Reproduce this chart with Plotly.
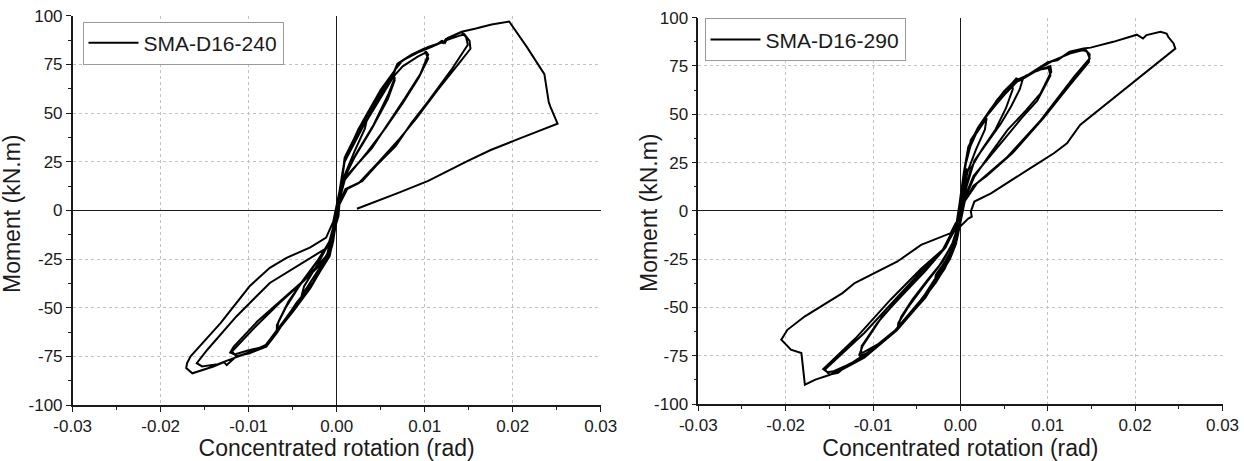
import plotly.graph_objects as go

# Tick positions and labels shared by both panels
x_tickvals = [-0.03, -0.02, -0.01, 0.0, 0.01, 0.02, 0.03]
x_ticktext = ["-0.03", "-0.02", "-0.01", "0.00", "0.01", "0.02", "0.03"]
y_tickvals = [-100, -75, -50, -25, 0, 25, 50, 75, 100]
y_ticktext = ["-100", "-75", "-50", "-25", "0", "25", "50", "75", "100"]

x_title = "Concentrated rotation (rad)"
y_title = "Moment (kN.m)"

specimen_a = "SMA-D16-240"
specimen_b = "SMA-D16-290"

# Moment-rotation history, SMA-D16-240: (rotation [rad], moment [kN.m])
path_240 = [
    (0.0, 0.0), (0.0003, 8), (0.0006, 16), (0.0004, 10), (0.0, 1),
    (-0.0003, -8), (-0.0006, -16), (-0.0004, -10), (0.0, 0),
    (0.0006, 18), (0.0009, 26), (0.002, 36), (0.0035, 48), (0.0032, 42), (0.002, 30), (0.0008, 17), (0.0002, 4),
    (-0.0004, -14), (-0.0008, -20), (-0.002, -30), (-0.004, -44), (-0.0037, -39), (-0.0022, -28), (-0.0009, -17), (0.0, -2),
    (0.0005, 14), (0.0009, 26), (0.0025, 42), (0.0045, 58), (0.0058, 66), (0.0064, 69), (0.0066, 67), (0.0058, 57),
    (0.004, 42), (0.002, 27), (0.0008, 16), (0.0002, 3),
    (-0.0004, -16), (-0.001, -24), (-0.0027, -37), (-0.0046, -48), (-0.0062, -58), (-0.0068, -62), (-0.0068, -59),
    (-0.0058, -50), (-0.004, -37), (-0.0022, -26), (-0.0008, -16), (0.0, -2),
    (0.0006, 16), (0.001, 28), (0.003, 46), (0.005, 62), (0.0063, 70), (0.0066, 68), (0.0059, 60), (0.0042, 44),
    (0.0022, 29), (0.0008, 17), (0.0002, 3),
    (-0.0005, -18), (-0.0012, -26), (-0.003, -40), (-0.0048, -51), (-0.0065, -61), (-0.0069, -63), (-0.0066, -57),
    (-0.0055, -47), (-0.0038, -36), (-0.002, -25), (-0.0007, -15), (0.0, -2),
    (0.0005, 14), (0.0009, 26), (0.0025, 40), (0.0045, 55), (0.0062, 67), (0.0069, 75), (0.0085, 80), (0.0099, 83),
    (0.0104, 80), (0.0095, 70), (0.0078, 58), (0.006, 46), (0.004, 32), (0.002, 22), (0.001, 17), (0.0003, 5),
    (-0.0004, -14), (-0.0008, -23), (-0.0027, -37), (-0.0046, -48), (-0.0068, -62), (-0.008, -69), (-0.0099, -73),
    (-0.0114, -75), (-0.0119, -72.5), (-0.0095, -61), (-0.0065, -47.6), (-0.0039, -37), (-0.0012, -25), (-0.0003, -8),
    (0.0006, 16), (0.0009, 25), (0.003, 43), (0.005, 58), (0.0065, 69), (0.0075, 74), (0.0092, 79), (0.0101, 81),
    (0.0104, 78), (0.0093, 68), (0.0075, 55), (0.0055, 42), (0.0035, 30), (0.0015, 19), (0.0008, 15), (0.0002, 4),
    (-0.0005, -17), (-0.001, -24), (-0.0028, -38), (-0.0047, -49), (-0.0067, -61), (-0.0082, -70), (-0.0101, -72),
    (-0.0116, -74), (-0.0121, -73), (-0.0117, -70), (-0.009, -57), (-0.006, -45), (-0.0035, -35), (-0.0011, -23),
    (-0.0002, -5),
    (0.0005, 15), (0.0009, 26), (0.0025, 42), (0.0045, 56), (0.0062, 68), (0.0069, 75), (0.0085, 80), (0.01, 83),
    (0.0115, 85.6), (0.0119, 87), (0.0121, 86), (0.0124, 88), (0.0134, 89.8), (0.0142, 91.6), (0.0147, 89),
    (0.0149, 85), (0.013, 72), (0.0104, 56), (0.0085, 45), (0.0067, 33), (0.0045, 23), (0.0029, 15), (0.001, 11),
    (0.0004, 5),
    (-0.0005, -17), (-0.0008, -23.5), (-0.0027, -37.3), (-0.0046, -47.6), (-0.0068, -63), (-0.008, -70),
    (-0.0099, -73.4), (-0.0114, -75), (-0.0125, -79.5), (-0.0128, -78), (-0.014, -80.2), (-0.0164, -83.7),
    (-0.0171, -81), (-0.017, -78.5), (-0.0166, -75), (-0.0132, -57.9), (-0.0099, -39), (-0.0076, -29.5),
    (-0.0057, -24.4), (-0.003, -19), (-0.0012, -14), (-0.0004, -6),
    (0.0006, 16), (0.0009, 27), (0.0028, 44), (0.005, 60), (0.0066, 72), (0.0075, 77), (0.0092, 81), (0.0108, 84),
    (0.0125, 87.5), (0.0138, 89.5), (0.0145, 90.5), (0.0151, 87), (0.0152, 83), (0.0138, 75), (0.0115, 62),
    (0.009, 47), (0.007, 36), (0.0048, 25), (0.0025, 14), (0.0012, 11), (0.0003, 3),
    (-0.0005, -18), (-0.0009, -24), (-0.0028, -38), (-0.0047, -49), (-0.0068, -62), (-0.0082, -70), (-0.01, -73),
    (-0.0115, -75.5), (-0.0135, -79), (-0.0153, -80.2), (-0.0159, -78.5), (-0.0147, -71.6), (-0.0114, -54.5),
    (-0.0076, -37.3), (-0.0039, -27), (-0.0008, -18.4), (0.0002, -3),
    (0.0005, 14), (0.0009, 26), (0.0025, 42), (0.0045, 57), (0.0063, 69), (0.0069, 75.3), (0.0085, 80),
    (0.0104, 84), (0.0115, 85.6), (0.012, 87), (0.0123, 86), (0.0126, 88.5), (0.0142, 91.8), (0.0157, 93.3),
    (0.0176, 95.5), (0.0196, 97), (0.0216, 84), (0.0236, 70), (0.0241, 55.5), (0.0243, 53), (0.0249, 46),
    (0.0251, 44.5), (0.0206, 36.6), (0.0175, 31), (0.0149, 25.4), (0.0125, 20), (0.0104, 15.1), (0.007, 9),
    (0.0023, 0.8),
]

# Moment-rotation history, SMA-D16-290: (rotation [rad], moment [kN.m])
path_290 = [
    (0.0, 0.0), (0.0003, 10), (0.0007, 22), (0.0004, 12), (0.0, 2),
    (-0.0003, -8), (-0.0006, -16), (-0.0003, -8), (0.0, 0),
    (0.0004, 18), (0.0008, 30), (0.0018, 40), (0.003, 48), (0.0028, 42), (0.0018, 32), (0.0008, 20), (0.0002, 6),
    (-0.0004, -14), (-0.0008, -20), (-0.0018, -30), (-0.003, -38), (-0.0028, -33), (-0.0017, -26), (-0.0008, -18),
    (0.0, -4),
    (0.0004, 20), (0.0009, 33), (0.002, 43), (0.0035, 53), (0.005, 62), (0.0059, 66), (0.006, 63), (0.0052, 53),
    (0.004, 42), (0.0025, 32), (0.0012, 22), (0.0003, 6),
    (-0.0004, -15), (-0.001, -22), (-0.0025, -34), (-0.0045, -46), (-0.0062, -56), (-0.0072, -61.5), (-0.0071, -58),
    (-0.006, -50), (-0.0042, -39), (-0.0025, -29), (-0.001, -18), (0.0, -4),
    (0.0005, 22), (0.0012, 36), (0.0027, 47), (0.0042, 57.4), (0.0059, 66), (0.0064, 68.5), (0.0069, 67.7),
    (0.0072, 69), (0.0068, 63), (0.0058, 54), (0.0046, 45), (0.003, 35), (0.0016, 26), (0.0004, 8),
    (-0.0005, -17), (-0.0012, -25), (-0.0028, -37), (-0.0048, -49), (-0.0065, -58), (-0.0073, -62), (-0.0068, -55),
    (-0.0055, -46), (-0.0038, -36), (-0.002, -26), (-0.0007, -15), (0.0, -4),
    (0.0005, 22), (0.0012, 36.7), (0.0027, 47), (0.0042, 57.4), (0.0059, 66), (0.0069, 67.7), (0.0085, 72),
    (0.0103, 75), (0.0104, 72), (0.0092, 61), (0.0075, 52), (0.0054, 41.9), (0.0035, 30), (0.0016, 17.7),
    (0.0004, 5),
    (-0.0004, -15), (-0.0015, -25.3), (-0.0041, -44.3), (-0.0072, -61.5), (-0.009, -68), (-0.011, -73),
    (-0.0114, -73.6), (-0.0113, -70), (-0.0095, -58), (-0.007, -45), (-0.0045, -33), (-0.0019, -20), (-0.0004, -8),
    (0.0006, 24), (0.0014, 38), (0.003, 49), (0.0048, 59), (0.0065, 67), (0.0075, 70), (0.009, 73), (0.0101, 74),
    (0.0103, 70), (0.0088, 57), (0.007, 48), (0.005, 37), (0.003, 26), (0.0015, 18), (0.0004, 6),
    (-0.0004, -15), (-0.0015, -26), (-0.004, -45), (-0.007, -60), (-0.0092, -69), (-0.0108, -74), (-0.0116, -75),
    (-0.0112, -70), (-0.009, -55), (-0.0065, -43), (-0.004, -31), (-0.0017, -19), (-0.0003, -6),
    (0.0005, 22), (0.0012, 36.7), (0.0027, 47), (0.0042, 57.4), (0.0059, 66), (0.0069, 68), (0.0077, 70),
    (0.009, 74), (0.0103, 77.2), (0.013, 82.3), (0.0141, 83.2), (0.0145, 82.3), (0.0148, 78.9), (0.013, 69.4),
    (0.0092, 47), (0.0054, 28), (0.0019, 14.3), (0.0005, 5),
    (-0.0004, -15), (-0.0015, -25.3), (-0.0041, -44.3), (-0.0072, -61.5), (-0.011, -75.3), (-0.013, -80),
    (-0.014, -83.9), (-0.015, -84.8), (-0.0155, -82.2), (-0.011, -63.2), (-0.0064, -40.8), (-0.003, -24),
    (-0.0019, -20), (-0.0005, -8),
    (0.0006, 24), (0.0014, 38), (0.003, 49), (0.0048, 59), (0.0065, 67), (0.008, 71), (0.0103, 77), (0.0125, 81.5),
    (0.0143, 83.5), (0.0148, 81), (0.0147, 77), (0.0125, 65), (0.0095, 48), (0.006, 30), (0.003, 18),
    (0.0015, 13), (0.0004, 4),
    (-0.0005, -16), (-0.0016, -26), (-0.0043, -45), (-0.0075, -62), (-0.0105, -73), (-0.0125, -79), (-0.0145, -83),
    (-0.0152, -83.5), (-0.0157, -82), (-0.012, -66), (-0.008, -46), (-0.0045, -30), (-0.002, -20), (-0.0004, -6),
    (0.0004, 20), (0.0011, 35), (0.0029, 48.8), (0.0056, 63.4), (0.0065, 67.8), (0.0077, 70.3), (0.01, 77),
    (0.0111, 78), (0.0125, 82.4), (0.0141, 84), (0.0149, 84.5), (0.0175, 87.5), (0.0202, 91.2), (0.0209, 89.2),
    (0.0213, 91), (0.0229, 92.7), (0.0236, 91.8), (0.0238, 90), (0.0244, 86.7), (0.0246, 84), (0.0206, 69.4),
    (0.0168, 55.7), (0.0137, 44.5), (0.0122, 35), (0.0107, 29.8), (0.0077, 21.2), (0.0035, 9.1), (0.0016, 4.8),
    (0.0012, -0.3), (0.0013, -3), (0.0009, -4), (0.0, -8),
    (-0.0005, -12), (-0.0015, -26), (-0.0042, -45), (-0.0073, -62), (-0.011, -76), (-0.0135, -82), (-0.015, -85),
    (-0.0166, -87.4), (-0.0178, -90), (-0.0182, -73.6), (-0.0194, -71.9), (-0.0205, -66.7), (-0.0198, -61.6),
    (-0.0178, -54.6), (-0.0135, -42.6), (-0.0121, -37.4), (-0.0072, -26.2), (-0.0045, -17.6), (-0.0011, -11.5),
    (-0.0005, -6),
]

FONT = "Liberation Sans, Arial, sans-serif"
INK = "#1a1a1a"
W, H = 1244, 461


def unzip(path):
    return [p[0] for p in path], [p[1] for p in path]


rot_240, mom_240 = unzip(path_240)
rot_290, mom_290 = unzip(path_290)

fig = go.Figure()
fig.add_trace(go.Scatter(x=rot_240, y=mom_240, mode="lines", name=specimen_a,
                         line=dict(color="#000000", width=2),
                         xaxis="x", yaxis="y", legend="legend"))
fig.add_trace(go.Scatter(x=rot_290, y=mom_290, mode="lines", name=specimen_b,
                         line=dict(color="#000000", width=2),
                         xaxis="x2", yaxis="y2", legend="legend2"))


def x_axis(domain, anchor):
    return dict(
        domain=domain, anchor=anchor, range=[-0.03, 0.03],
        tickmode="array", tickvals=x_tickvals, ticktext=x_ticktext,
        ticks="outside", ticklen=5, tickwidth=1.3, tickcolor=INK,
        minor=dict(ticks="outside", ticklen=3, tickwidth=1.2, tickcolor=INK,
                   dtick=0.005, tick0=0, showgrid=False),
        showline=True, linecolor=INK, linewidth=1.5,
        showgrid=True, gridcolor="#c2c2c2", gridwidth=1, griddash="dot",
        zeroline=True, zerolinecolor=INK, zerolinewidth=1.3,
        tickfont=dict(family=FONT, size=17, color=INK),
        title=dict(text=x_title, font=dict(family=FONT, size=23, color=INK), standoff=0),
        automargin=False,
    )


def y_axis(domain, anchor):
    return dict(
        domain=domain, anchor=anchor, range=[-100, 100],
        tickmode="array", tickvals=y_tickvals, ticktext=y_ticktext,
        ticks="outside", ticklen=5, tickwidth=1.3, tickcolor=INK,
        minor=dict(ticks="outside", ticklen=3, tickwidth=1.2, tickcolor=INK,
                   dtick=12.5, tick0=0, showgrid=False),
        showline=True, linecolor=INK, linewidth=1.5,
        showgrid=True, gridcolor="#c2c2c2", gridwidth=1, griddash="dot",
        zeroline=True, zerolinecolor=INK, zerolinewidth=1.3,
        tickfont=dict(family=FONT, size=17, color=INK),
        automargin=False,
    )


def legend_box(x, y):
    return dict(x=x, y=y, xanchor="left", yanchor="top", bgcolor="#ffffff",
                bordercolor="#9a9a9a", borderwidth=1, itemwidth=50,
                font=dict(family=FONT, size=21, color=INK))


def y_label(xc, yc):
    return dict(text=y_title, textangle=-90, showarrow=False,
                xref="paper", yref="paper", x=xc / W, y=1 - yc / H,
                xanchor="center", yanchor="middle",
                font=dict(family=FONT, size=23, color=INK))


fig.update_layout(
    width=W, height=H,
    margin=dict(l=0, r=0, t=0, b=0),
    paper_bgcolor="#ffffff", plot_bgcolor="#ffffff",
    showlegend=True,
    xaxis=x_axis([72.7 / W, 600.7 / W], "y"),
    yaxis=y_axis([(H - 405) / H, (H - 15.7) / H], "x"),
    xaxis2=x_axis([698.3 / W, 1222.5 / W], "y2"),
    yaxis2=y_axis([(H - 404) / H, (H - 17.7) / H], "x2"),
    legend=legend_box(82.5 / W, 1 - 21.7 / H),
    legend2=legend_box(704.5 / W, 1 - 18.3 / H),
    annotations=[y_label(12, 214), y_label(649, 213)],
)

fig.write_html("out.html")
